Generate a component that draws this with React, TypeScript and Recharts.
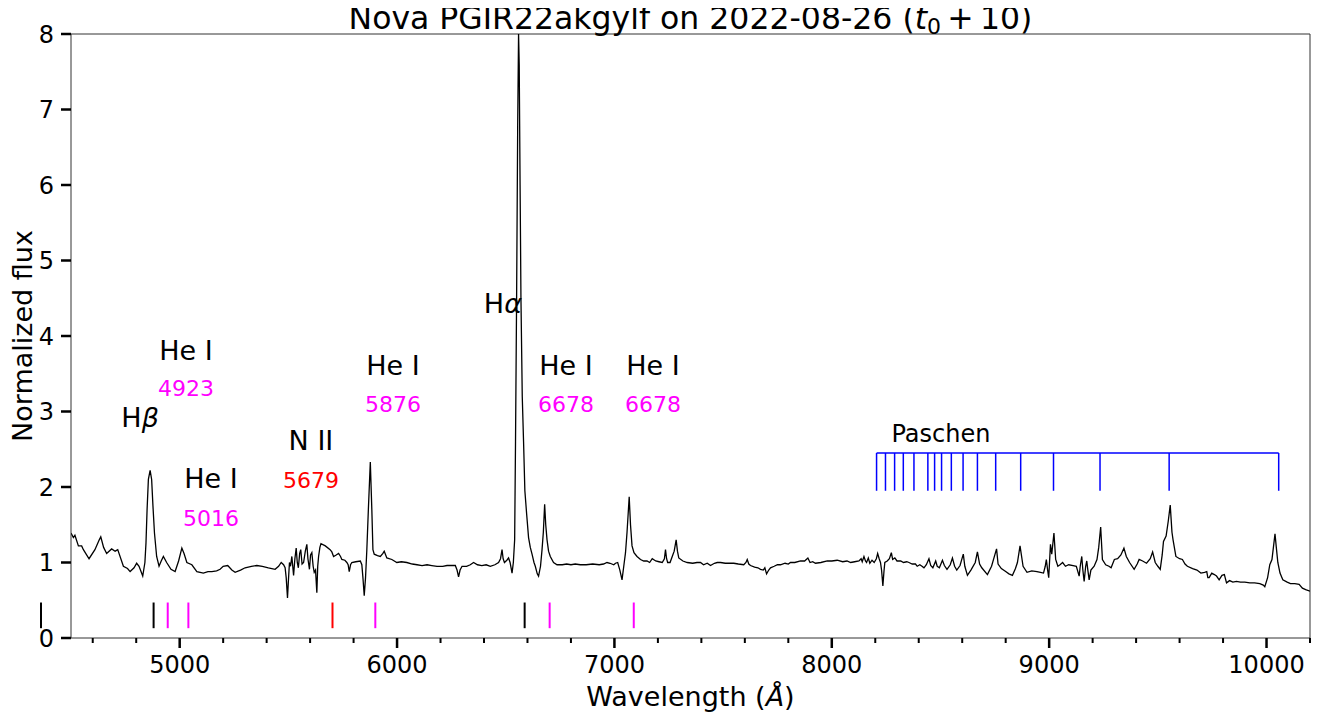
import React from "react";
import {
  LineChart,
  Line,
  XAxis,
  YAxis,
  ReferenceLine,
  ReferenceDot,
} from "recharts";

const FONT = "DejaVu Sans, sans-serif";

// spectrum: wavelength (Å) and normalized flux
const wavelength = [
  4500, 4511, 4518, 4534, 4549, 4557, 4583, 4610, 4630, 4637, 4650, 4664, 4687, 4703, 4715, 4741, 4760, 4772,
  4790, 4802, 4813, 4830, 4840, 4845, 4850, 4856, 4864, 4871, 4877, 4884, 4894, 4905, 4915, 4925, 4940, 4960,
  4979, 4995, 5010, 5020, 5033, 5056, 5079, 5109, 5130, 5148, 5170, 5186, 5200, 5221, 5240, 5255, 5280, 5301,
  5330, 5355, 5380, 5408, 5439, 5455, 5467, 5478, 5485, 5490, 5496, 5500, 5505, 5510, 5516, 5524, 5530, 5536,
  5541, 5546, 5552, 5557, 5563, 5570, 5578, 5585, 5590, 5597, 5602, 5608, 5614, 5619, 5625, 5631, 5635, 5639,
  5645, 5650, 5670, 5692, 5700, 5708, 5720, 5731, 5740, 5746, 5760, 5769, 5775, 5780, 5786, 5792, 5810, 5831,
  5838, 5843, 5849, 5855, 5861, 5868, 5877, 5884, 5889, 5895, 5910, 5923, 5935, 5941, 5953, 5976, 5999, 6020,
  6045, 6070, 6092, 6115, 6138, 6160, 6184, 6210, 6230, 6255, 6268, 6276, 6283, 6290, 6299, 6320, 6337, 6352,
  6370, 6390, 6410, 6429, 6450, 6467, 6476, 6483, 6488, 6494, 6505, 6513, 6520, 6529, 6535, 6541, 6545, 6550,
  6555, 6559, 6562, 6566, 6570, 6576, 6582, 6588, 6596, 6605, 6613, 6621, 6630, 6636, 6645, 6651, 6660, 6667,
  6673, 6679, 6684, 6690, 6697, 6705, 6720, 6736, 6760, 6780, 6800, 6820, 6843, 6870, 6900, 6930, 6950, 6966,
  6980, 6997, 7005, 7015, 7025, 7035, 7043, 7051, 7058, 7068, 7074, 7081, 7090, 7104, 7120, 7135, 7150, 7162,
  7174, 7190, 7205, 7220, 7230, 7235, 7240, 7245, 7256, 7266, 7275, 7284, 7290, 7296, 7315, 7335, 7360, 7380,
  7396, 7410, 7427, 7442, 7460, 7473, 7488, 7510, 7530, 7549, 7570, 7595, 7605, 7611, 7618, 7626, 7645, 7660,
  7672, 7685, 7692, 7700, 7710, 7718, 7735, 7750, 7764, 7785, 7800, 7810, 7830, 7856, 7875, 7890, 7900, 7912,
  7925, 7950, 7979, 8000, 8025, 8050, 8070, 8087, 8105, 8125, 8135, 8140, 8148, 8155, 8160, 8168, 8175, 8185,
  8195, 8205, 8211, 8218, 8224, 8229, 8235, 8240, 8244, 8255, 8265, 8274, 8280, 8290, 8300, 8317, 8330, 8345,
  8355, 8370, 8385, 8393, 8405, 8415, 8424, 8435, 8447, 8455, 8465, 8478, 8485, 8495, 8509, 8518, 8530, 8545,
  8555, 8565, 8575, 8590, 8605, 8612, 8624, 8640, 8660, 8670, 8680, 8690, 8716, 8735, 8758, 8765, 8780, 8800,
  8815, 8831, 8845, 8854, 8866, 8880, 8898, 8920, 8944, 8960, 8974, 8982, 8987, 8993, 8998, 9006, 9012, 9022,
  9030, 9040, 9050, 9062, 9075, 9090, 9110, 9125, 9138, 9143, 9150, 9155, 9161, 9168, 9173, 9178, 9184, 9192,
  9207, 9220, 9228, 9237, 9245, 9260, 9275, 9285, 9300, 9315, 9330, 9344, 9355, 9370, 9391, 9405, 9414, 9430,
  9448, 9465, 9476, 9488, 9500, 9511, 9520, 9526, 9538, 9548, 9557, 9565, 9570, 9583, 9600, 9613, 9625, 9636,
  9660, 9680, 9698, 9715, 9725, 9730, 9736, 9748, 9760, 9770, 9782, 9795, 9806, 9816, 9830, 9845, 9862, 9880,
  9900, 9923, 9945, 9969, 9985, 9992, 10005, 10015, 10025, 10039, 10045, 10052, 10062, 10075, 10095, 10110,
  10130, 10150, 10165, 10180, 10200,
];

const flux = [
  1.39, 1.33, 1.36, 1.22, 1.22, 1.17, 1.05, 1.17, 1.3, 1.34, 1.2, 1.12, 1.18, 1.15, 1.17, 0.95, 0.92, 0.88,
  0.93, 0.99, 0.95, 0.82, 1.0, 1.26, 1.7, 2.1, 2.22, 2.1, 1.75, 1.39, 1.08, 0.95, 1.02, 1.08, 1.0, 0.91,
  0.88, 1.02, 1.19, 1.12, 1.0, 0.97, 0.88, 0.86, 0.88, 0.88, 0.89, 0.91, 0.95, 0.96, 0.9, 0.87, 0.9, 0.93,
  0.95, 0.96, 0.95, 0.93, 0.91, 0.95, 1.0, 0.97, 0.93, 0.8, 0.53, 0.75, 1.0, 0.95, 1.08, 0.83, 1.05, 1.19,
  1.0, 0.93, 1.12, 1.17, 0.98, 1.0, 1.15, 1.24, 1.05, 0.91, 1.1, 1.13, 0.95, 0.87, 0.9, 0.6, 0.95, 1.08,
  1.2, 1.25, 1.22, 1.17, 1.14, 1.08, 1.1, 1.12, 1.08, 1.04, 1.03, 1.0, 0.97, 0.88, 0.97, 1.0, 1.01, 1.02,
  0.97, 0.8, 0.56, 0.8, 1.17, 1.7, 2.33, 1.7, 1.17, 1.11, 1.09, 1.08, 1.12, 1.15, 1.06, 1.04, 1.0, 1.01,
  1.0, 0.98, 0.97, 0.96, 0.97, 0.96, 0.95, 0.95, 0.96, 0.96, 0.96, 0.9, 0.81, 0.9, 0.95, 0.95, 0.97, 1.0,
  0.97, 0.96, 0.97, 0.95, 0.97, 1.0, 1.05, 1.17, 1.05, 1.0, 1.03, 1.06, 1.0, 0.86, 1.0, 1.3, 2.6, 4.5,
  6.8, 8.0, 7.6, 6.0, 4.5, 3.2, 2.6, 1.95, 1.65, 1.33, 1.2, 1.11, 1.0, 0.95, 0.85, 0.82, 0.95, 1.17,
  1.4, 1.77, 1.5, 1.3, 1.15, 1.08, 1.0, 0.97, 0.97, 0.98, 0.97, 0.98, 0.97, 0.97, 0.98, 0.97, 0.98, 1.0,
  0.99, 0.97, 0.99, 1.0, 0.9, 0.77, 0.95, 1.13, 1.4, 1.87, 1.5, 1.22, 1.13, 1.08, 1.04, 1.02, 1.02, 1.0,
  1.05, 1.02, 1.01, 1.0, 1.05, 1.17, 1.05, 1.0, 1.0, 1.08, 1.15, 1.3, 1.15, 1.06, 1.02, 1.0, 0.99, 1.0,
  1.0, 0.97, 0.99, 0.96, 0.99, 1.0, 1.0, 0.99, 0.99, 0.99, 0.98, 0.97, 1.0, 1.04, 0.98, 0.96, 0.94, 0.93,
  0.91, 0.9, 0.93, 0.85, 0.9, 0.93, 0.95, 0.97, 0.97, 0.99, 0.98, 1.0, 1.0, 1.02, 1.02, 1.06, 1.0, 1.01,
  0.99, 1.0, 1.02, 1.02, 1.03, 1.01, 1.02, 1.0, 1.01, 1.02, 1.05, 1.01, 1.08, 1.02, 1.0, 1.06, 0.99, 1.03,
  1.0, 1.05, 1.12, 1.05, 1.0, 0.9, 0.69, 0.88, 1.0, 1.02, 1.05, 1.13, 1.04, 1.06, 1.02, 1.02, 1.0, 1.01,
  1.0, 0.98, 0.98, 0.95, 0.97, 0.95, 0.93, 0.97, 1.05, 0.96, 0.93, 1.02, 0.95, 0.93, 1.03, 0.96, 0.91, 0.97,
  1.06, 0.95, 0.9, 0.96, 1.11, 0.95, 0.83, 0.9, 1.0, 1.14, 0.98, 0.93, 0.84, 0.95, 1.18, 0.98, 0.92, 0.88,
  0.85, 0.83, 0.92, 1.0, 1.22, 0.95, 0.87, 0.89, 0.88, 0.87, 0.86, 0.95, 1.04, 0.9, 0.8, 1.24, 1.11, 1.39,
  1.04, 0.95, 0.97, 1.0, 0.95, 0.97, 0.96, 0.95, 0.82, 0.95, 1.08, 0.9, 0.75, 0.95, 1.02, 0.9, 0.77, 0.9,
  0.95, 1.04, 1.2, 1.47, 1.04, 0.97, 0.95, 0.93, 1.04, 1.05, 1.1, 1.19, 1.08, 1.0, 0.91, 0.98, 1.04, 1.02,
  0.99, 1.05, 1.14, 1.0, 0.95, 0.91, 1.1, 1.28, 1.35, 1.55, 1.76, 1.4, 1.3, 1.08, 1.05, 1.04, 0.98, 0.95,
  0.92, 0.9, 0.86, 0.87, 0.88, 0.8, 0.8, 0.86, 0.84, 0.82, 0.77, 0.83, 0.84, 0.73, 0.76, 0.74, 0.75, 0.74,
  0.74, 0.73, 0.73, 0.72, 0.7, 0.68, 0.8, 0.97, 1.04, 1.38, 1.2, 1.0, 0.86, 0.77, 0.74, 0.72,
  0.72, 0.71, 0.66, 0.64, 0.62,
];

// line identification marks near the bottom
const markWl = [4362, 4880, 4945, 5040, 5703, 5900, 6587, 6702, 7089];
const markColor = ["#000000", "#000000", "#ff00ff", "#ff00ff", "#ff0000", "#ff00ff", "#000000", "#ff00ff", "#ff00ff"];
const markLow = 0.13;
const markHigh = 0.47;

// Paschen series comb
const paschenWl = [8206, 8247, 8289, 8329, 8378, 8442, 8473, 8505, 8550, 8604, 8670, 8754, 8869, 9020, 9234, 9552, 10056];
const paschenTop = 2.45;
const paschenBottom = 1.95;

const xMajor = [5000, 6000, 7000, 8000, 9000, 10000];
const xTicks = [
  4600, 4800, 5000, 5200, 5400, 5600, 5800, 6000, 6200, 6400, 6600, 6800, 7000, 7200, 7400, 7600, 7800,
  8000, 8200, 8400, 8600, 8800, 9000, 9200, 9400, 9600, 9800, 10000, 10200,
];
const yTicks = [0, 1, 2, 3, 4, 5, 6, 7, 8];

// annotations: [text, wavelength, flux (baseline), kind]
const labels: [string, number, number, string][] = [
  ["Hβ", 4818, 2.8, "name"],
  ["He I", 5029, 3.68, "name"],
  ["4923", 5029, 3.2, "he"],
  ["He I", 5144, 1.99, "name"],
  ["5016", 5144, 1.49, "he"],
  ["N II", 5604, 2.49, "name"],
  ["5679", 5604, 1.99, "n"],
  ["He I", 5981, 3.48, "name"],
  ["5876", 5981, 2.99, "he"],
  ["Hα", 6487, 4.3, "name"],
  ["He I", 6777, 3.48, "name"],
  ["6678", 6777, 2.99, "he"],
  ["He I", 7177, 3.48, "name"],
  ["6678", 7177, 2.99, "he"],
  ["Paschen", 8502, 2.6, "small"],
];

const data = wavelength.map((w, i) => ({ wl: w, flux: flux[i] }));

function XTick(props: any) {
  const { x, y, payload } = props;
  const major = xMajor.includes(payload.value);
  return (
    <g>
      <line x1={x} x2={x} y1={y} y2={y + (major ? 10 : 5)} stroke="#000" strokeWidth={major ? 2.5 : 2} />
      {major && (
        <text x={x} y={y + 35} textAnchor="middle" fontSize={24} fontFamily={FONT} fill="#000">
          {payload.value}
        </text>
      )}
    </g>
  );
}

function labelShape(text: string, kind: string) {
  return (p: any) => {
    const color = kind === "he" ? "#ff00ff" : kind === "n" ? "#ff0000" : "#000";
    const size = kind === "name" ? 27 : kind === "small" ? 24 : 22;
    const greek = text.startsWith("H") && text.length === 2;
    return (
      <text x={p.cx} y={p.cy} textAnchor="middle" fontSize={size} fontFamily={FONT} fill={color}>
        {greek ? (
          <>
            H<tspan fontStyle="italic">{text[1]}</tspan>
          </>
        ) : (
          text
        )}
      </text>
    );
  };
}

export default function App() {
  const W = 1332;
  const H = 721;
  return (
    <div style={{ position: "relative", width: W, height: H, margin: -8, fontFamily: FONT }}>
      <LineChart width={W} height={H} data={data} margin={{ top: 34, right: 22, left: 0, bottom: 0 }}>
        <XAxis
          dataKey="wl"
          type="number"
          domain={[4500, 10200]}
          ticks={xTicks}
          interval={0}
          allowDataOverflow
          height={83}
          tickSize={0}
          tickMargin={0}
          tickLine={false}
          tick={<XTick />}
          axisLine={{ stroke: "#333", strokeWidth: 1 }}
        />
        <YAxis
          type="number"
          domain={[0, 8]}
          ticks={yTicks}
          interval={0}
          allowDataOverflow
          width={71}
          tickSize={10}
          tickMargin={7}
          tickLine={{ stroke: "#000", strokeWidth: 2.5 }}
          axisLine={{ stroke: "#333", strokeWidth: 1 }}
          tick={{ fontSize: 24, fill: "#000", fontFamily: FONT }}
        />
        <ReferenceLine y={8} stroke="#333" strokeWidth={1} />
        <ReferenceLine x={10200} stroke="#333" strokeWidth={1} />
        {markWl.map((w, i) => (
          <ReferenceLine
            key={"m" + i}
            segment={[
              { x: w, y: markLow },
              { x: w, y: markHigh },
            ]}
            stroke={markColor[i]}
            strokeWidth={2}
            ifOverflow="visible"
          />
        ))}
        <ReferenceLine
          segment={[
            { x: paschenWl[0], y: paschenTop },
            { x: paschenWl[paschenWl.length - 1], y: paschenTop },
          ]}
          stroke="#0000ff"
          strokeWidth={1.5}
        />
        {paschenWl.map((w, i) => (
          <ReferenceLine
            key={"p" + i}
            segment={[
              { x: w, y: paschenBottom },
              { x: w, y: paschenTop },
            ]}
            stroke="#0000ff"
            strokeWidth={1.5}
          />
        ))}
        <Line
          type="linear"
          dataKey="flux"
          stroke="#000"
          strokeWidth={1.3}
          dot={false}
          activeDot={false}
          isAnimationActive={false}
        />
        {labels.map(([text, w, f, kind], i) => (
          <ReferenceDot
            key={"l" + i}
            x={w}
            y={f}
            r={0}
            ifOverflow="visible"
            shape={labelShape(text, kind)}
          />
        ))}
      </LineChart>
      <svg
        width={W}
        height={H}
        style={{ position: "absolute", left: 0, top: 0, pointerEvents: "none" }}
        fontFamily={FONT}
      >
        <text x={690.5} y={29} textAnchor="middle" fontSize={31.5} fill="#000">
          Nova PGIR22akgylf on 2022-08-26 (<tspan fontStyle="italic">t</tspan>
          <tspan fontSize={22} dy={5}>0</tspan>
          <tspan dy={-5}>{"\u2009+\u200910)"}</tspan>
        </text>
        <text x={690.5} y={706} textAnchor="middle" fontSize={27} fill="#000">
          Wavelength (<tspan fontStyle="italic">Å</tspan>)
        </text>
        <text x={32} y={336} textAnchor="middle" fontSize={27} fill="#000" transform="rotate(-90, 32, 336)">
          Normalized flux
        </text>
      </svg>
    </div>
  );
}
